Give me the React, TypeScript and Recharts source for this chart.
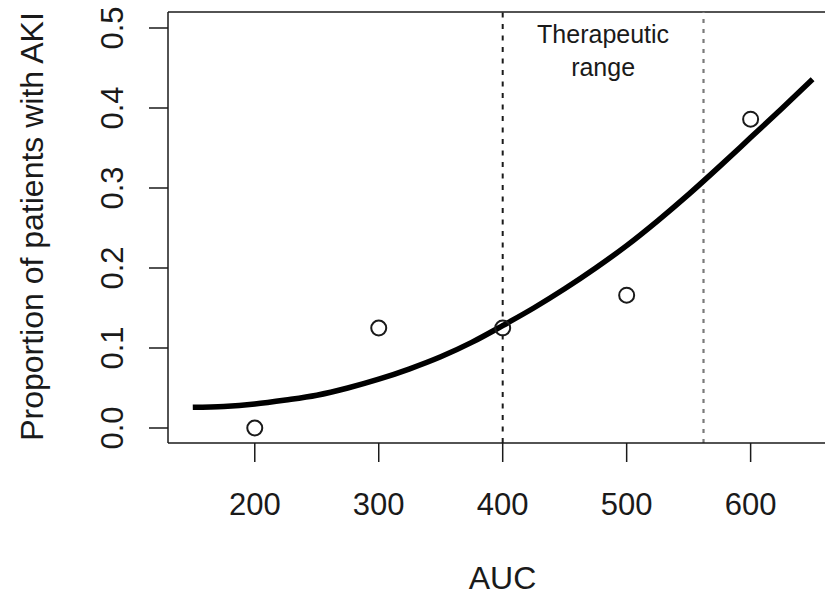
import React from 'react'
import {
  ComposedChart, Line, Scatter, XAxis, YAxis, ReferenceLine, ReferenceArea,
} from 'recharts'

// observed proportions at each AUC level
const pointAuc = [200, 300, 400, 500, 600]
const pointProp = [0.0, 0.125, 0.125, 0.166, 0.386]

// fitted curve
const curveAuc = [150, 175, 200, 225, 250, 275, 300, 325, 350, 375, 400, 425, 450, 475, 500, 525, 550, 575, 600, 625, 650]
const curveProp = [0.026, 0.027, 0.03, 0.035, 0.041, 0.05, 0.061, 0.074, 0.089, 0.107, 0.128, 0.15, 0.174, 0.2, 0.228, 0.259, 0.292, 0.327, 0.363, 0.399, 0.436]

const xTicks = [200, 300, 400, 500, 600]
const yTicks = [0, 0.1, 0.2, 0.3, 0.4, 0.5]
const rangeLow = 400
const rangeHigh = 562

const FONT = '"Liberation Sans", Arial, Helvetica, sans-serif'
const INK = '#1a1a1a'

const points = pointAuc.map((x, i) => ({ x, y: pointProp[i] }))
const curve = curveAuc.map((x, i) => ({ x, y: curveProp[i] }))

function YTick(props: any) {
  const { x, y, payload } = props
  return (
    <text
      x={x}
      y={y}
      transform={`rotate(-90 ${x} ${y})`}
      textAnchor="middle"
      fontSize={31}
      fontFamily={FONT}
      fill={INK}
    >
      {Number(payload.value).toFixed(1)}
    </text>
  )
}

function OpenCircle(props: any) {
  const { cx, cy } = props
  if (cx == null || cy == null) return null
  return <circle cx={cx} cy={cy} r={7.5} fill="none" stroke={INK} strokeWidth={2} />
}

export default function App() {
  return (
    <div style={{ position: 'absolute', top: 0, left: 0, background: '#fff' }}>
      <ComposedChart
        width={825}
        height={596}
        margin={{ top: 12, right: 0, bottom: 0, left: 0 }}
      >
        <XAxis
          dataKey="x"
          type="number"
          domain={[130, 660]}
          ticks={xTicks}
          allowDataOverflow
          height={153}
          tickSize={19}
          tickMargin={31}
          stroke={INK}
          strokeWidth={1.5}
          tick={{ fontSize: 31, fontFamily: FONT, fill: INK }}
          label={{
            content: (p: any) => {
              const vb = p.viewBox
              return (
                <text
                  x={vb.x + vb.width / 2 + 6}
                  y={vb.y + 146}
                  textAnchor="middle"
                  fontSize={32}
                  fontFamily={FONT}
                  fill={INK}
                >
                  AUC
                </text>
              )
            },
          }}
        />
        <YAxis
          type="number"
          domain={[-0.01875, 0.52]}
          ticks={yTicks}
          allowDataOverflow
          width={168}
          tickSize={19}
          tickMargin={26}
          stroke={INK}
          strokeWidth={1.5}
          tick={<YTick />}
          label={{
            content: (p: any) => {
              const vb = p.viewBox
              const cx = 43
              const cy = vb.y + vb.height / 2 - 1
              return (
                <text
                  x={cx}
                  y={cy}
                  transform={`rotate(-90 ${cx} ${cy})`}
                  textAnchor="middle"
                  fontSize={32}
                  fontFamily={FONT}
                  fill={INK}
                >
                  Proportion of patients with AKI
                </text>
              )
            },
          }}
        />
        <ReferenceLine y={0.52} stroke={INK} strokeWidth={1.5} />
        <ReferenceArea
          x1={rangeLow}
          x2={rangeHigh}
          fill="none"
          fillOpacity={0}
          label={{
            content: (p: any) => {
              const vb = p.viewBox
              const cx = vb.x + vb.width / 2
              return (
                <text textAnchor="middle" fontSize={25} fontFamily={FONT} fill={INK}>
                  <tspan x={cx} y={43}>Therapeutic</tspan>
                  <tspan x={cx} y={76}>range</tspan>
                </text>
              )
            },
          }}
        />
        <ReferenceLine x={rangeLow} stroke={INK} strokeWidth={2} strokeDasharray="5 6.5" />
        <ReferenceLine x={rangeHigh} stroke="#7a7a7a" strokeWidth={2.2} strokeDasharray="4 6" />
        <Line
          data={curve}
          dataKey="y"
          type="monotone"
          stroke="#000"
          strokeWidth={5.5}
          dot={false}
          activeDot={false}
          isAnimationActive={false}
        />
        <Scatter data={points} dataKey="y" shape={<OpenCircle />} isAnimationActive={false} />
      </ComposedChart>
    </div>
  )
}
